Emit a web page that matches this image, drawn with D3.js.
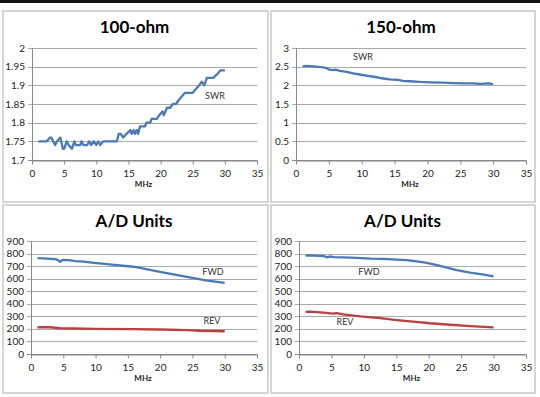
<!DOCTYPE html>
<html>
<head>
<meta charset="utf-8">
<script src="https://cdn.jsdelivr.net/npm/d3@7"></script>
<style>
  body { margin: 0; background: #fff; }
  svg { display: block; font-family: Lato, "Open Sans", sans-serif; }
</style>
</head>
<body>
<svg width="540" height="397"></svg>
<script>
// 100-ohm SWR
const mhz100 = [1, 2.3, 2.8, 3.0, 3.6, 3.9, 4.4, 4.8, 5.0, 5.4, 5.7, 6.2, 6.6, 6.8, 7.5, 7.7, 8.0, 8.6, 8.9, 9.2, 9.6, 10.0, 10.3, 10.6, 11.1, 13.2, 13.5, 13.8, 14.2, 14.7, 15.3, 15.5, 15.8, 16.0, 16.3, 16.5, 16.8, 17.6, 17.8, 18.4, 18.6, 19.4, 19.8, 20.3, 20.5, 21.0, 21.5, 21.9, 22.4, 22.8, 23.3, 23.8, 25.0, 25.5, 26.0, 26.4, 26.8, 27.2, 28.2, 28.8, 29.3, 30];
const swr100 = [1.75, 1.75, 1.76, 1.76, 1.74, 1.75, 1.76, 1.73, 1.73, 1.75, 1.74, 1.73, 1.75, 1.74, 1.74, 1.75, 1.74, 1.74, 1.75, 1.74, 1.75, 1.74, 1.75, 1.74, 1.75, 1.75, 1.77, 1.77, 1.76, 1.77, 1.78, 1.77, 1.78, 1.77, 1.78, 1.77, 1.79, 1.79, 1.80, 1.80, 1.81, 1.81, 1.82, 1.83, 1.82, 1.84, 1.84, 1.85, 1.85, 1.86, 1.87, 1.88, 1.88, 1.89, 1.90, 1.91, 1.90, 1.92, 1.92, 1.93, 1.94, 1.94];

// 150-ohm SWR
const mhz150 = [1, 1.6, 3.1, 4.1, 4.5, 5.1, 5.7, 6.0, 6.7, 7.7, 8.7, 9.7, 10.7, 11.8, 13.0, 14.3, 15.3, 16.3, 17.3, 18.9, 20.4, 22.4, 23.9, 25.5, 27.0, 28.0, 29.3, 30];
const swr150 = [2.51, 2.52, 2.50, 2.48, 2.47, 2.42, 2.41, 2.42, 2.39, 2.36, 2.32, 2.29, 2.26, 2.23, 2.19, 2.16, 2.15, 2.12, 2.11, 2.09, 2.08, 2.07, 2.06, 2.05, 2.05, 2.04, 2.05, 2.03];

// A/D units, 100-ohm
const mhzFwdA = [1, 2.5, 3.8, 4.1, 4.5, 4.9, 5.6, 6.1, 6.9, 8.2, 9.7, 11.8, 13.8, 15.9, 16.9, 19.0, 21.0, 23.1, 25.2, 27.3, 30];
const fwdA = [764, 760, 755, 750, 735, 750, 748, 745, 740, 735, 725, 715, 705, 695, 685, 665, 645, 625, 605, 585, 567];
const mhzRevA = [1, 3, 4.5, 6.6, 9.7, 15.9, 20.0, 24.2, 26.2, 30];
const revA = [213, 213, 205, 203, 200, 198, 195, 190, 185, 181];

// A/D units, 150-ohm
const mhzFwdB = [1, 1.7, 3.8, 4.4, 4.8, 5.3, 6.8, 8.9, 11.0, 13.0, 15.1, 16.6, 18.2, 19.7, 21.3, 22.8, 24.3, 26.4, 28.5, 30];
const fwdB = [783, 785, 780, 770, 778, 772, 770, 765, 760, 758, 752, 748, 738, 725, 708, 688, 668, 648, 632, 618];
const mhzRevB = [1, 1.7, 3.8, 5.3, 5.8, 6.8, 9.4, 12.5, 15.1, 17.6, 20.2, 22.8, 26.4, 30];
const revB = [335, 337, 330, 322, 325, 315, 300, 285, 270, 258, 245, 235, 222, 212];

const xTicks = [0, 5, 10, 15, 20, 25, 30, 35];
const yTicks100 = [1.7, 1.75, 1.8, 1.85, 1.9, 1.95, 2];
const yTicks150 = [0, 0.5, 1, 1.5, 2, 2.5, 3];
const yTicksAD = [0, 100, 200, 300, 400, 500, 600, 700, 800, 900];

const blue = "#4a7ab5";
const red = "#b8423f";

const svg = d3.select("svg");
svg.append("rect").attr("x", 0).attr("y", 0).attr("width", 540).attr("height", 3).attr("fill", "#111");

const panels = [
    { box: [3, 11, 265, 191], plot: [32, 48, 257, 160], title: "100-ohm", yDomain: [1.7, 2], yTicks: yTicks100,
      series: [{ x: mhz100, y: swr100, color: blue, label: "SWR", lx: 215, ly: 99 }] },
    { box: [271, 11, 264, 191], plot: [296, 48, 526, 160], title: "150-ohm", yDomain: [0, 3], yTicks: yTicks150,
      series: [{ x: mhz150, y: swr150, color: blue, label: "SWR", lx: 363, ly: 60 }] },
    { box: [3, 205, 265, 188], plot: [31, 241, 257, 354], title: "A/D Units", yDomain: [0, 900], yTicks: yTicksAD,
      series: [{ x: mhzFwdA, y: fwdA, color: blue, label: "FWD", lx: 213, ly: 275 },
               { x: mhzRevA, y: revA, color: red, label: "REV", lx: 212, ly: 324 }] },
    { box: [271, 205, 264, 188], plot: [299, 241, 526, 354], title: "A/D Units", yDomain: [0, 900], yTicks: yTicksAD,
      series: [{ x: mhzFwdB, y: fwdB, color: blue, label: "FWD", lx: 369, ly: 275 },
               { x: mhzRevB, y: revB, color: red, label: "REV", lx: 345, ly: 325 }] }
];

panels.forEach(p => {
    const g = svg.append("g");
    const [bx, by, bw, bh] = p.box;
    g.append("rect")
        .attr("x", bx).attr("y", by).attr("width", bw).attr("height", bh)
        .attr("fill", "#fff").attr("stroke", "#c8c8c8").attr("stroke-width", 1.5);

    const [x0, y0, x1, y1] = p.plot;
    const x = d3.scaleLinear().domain([0, 35]).range([x0, x1]);
    const y = d3.scaleLinear().domain(p.yDomain).range([y1, y0]);

    g.append("text")
        .attr("x", (x0 + x1) / 2 - 10).attr("y", by + 22)
        .attr("text-anchor", "middle")
        .attr("font-size", 17).attr("font-weight", "bold")
        .attr("fill", "#000")
        .text(p.title);

    // gridlines
    g.append("g").selectAll("line")
        .data(p.yTicks)
        .join("line")
        .attr("x1", x0 - 4).attr("x2", x1)
        .attr("y1", d => Math.round(y(d)) + 0.5).attr("y2", d => Math.round(y(d)) + 0.5)
        .attr("stroke", d => d === p.yDomain[0] ? "#888" : "#a9a9a9")
        .attr("stroke-width", 1);

    // y axis
    g.append("line")
        .attr("x1", x0 + 0.5).attr("x2", x0 + 0.5).attr("y1", y0).attr("y2", y1)
        .attr("stroke", "#888");
    g.append("g").selectAll("text")
        .data(p.yTicks)
        .join("text")
        .attr("x", x0 - 7).attr("y", d => y(d) + 3.5)
        .attr("text-anchor", "end")
        .attr("font-size", 10).attr("fill", "#222")
        .text(d => String(d));

    // x axis
    const xAxis = g.append("g")
        .attr("transform", `translate(0,${Math.round(y1) + 0.5})`)
        .call(d3.axisBottom(x).tickValues(xTicks).tickSize(4).tickSizeOuter(0));
    xAxis.select(".domain").attr("stroke", "#888");
    xAxis.selectAll(".tick line").attr("stroke", "#888");
    xAxis.selectAll(".tick text")
        .attr("font-size", 10).attr("fill", "#222")
        .attr("font-family", "Lato, 'Open Sans', sans-serif")
        .attr("dy", "0.95em");

    g.append("text")
        .attr("x", (x0 + x1) / 2 - 1).attr("y", y1 + 27)
        .attr("text-anchor", "middle")
        .attr("font-size", 8).attr("font-weight", "bold").attr("fill", "#222")
        .text("MHz");

    const line = d3.line().x(d => x(d[0])).y(d => y(d[1]));
    p.series.forEach(s => {
        g.append("path")
            .datum(d3.zip(s.x, s.y))
            .attr("d", line)
            .attr("fill", "none")
            .attr("stroke", s.color)
            .attr("stroke-width", 2.3)
            .attr("stroke-linejoin", "round");
        g.append("text")
            .attr("x", s.lx).attr("y", s.ly)
            .attr("text-anchor", "middle")
            .attr("font-size", 9).attr("fill", "#333")
            .text(s.label);
    });
});
</script>
</body>
</html>
